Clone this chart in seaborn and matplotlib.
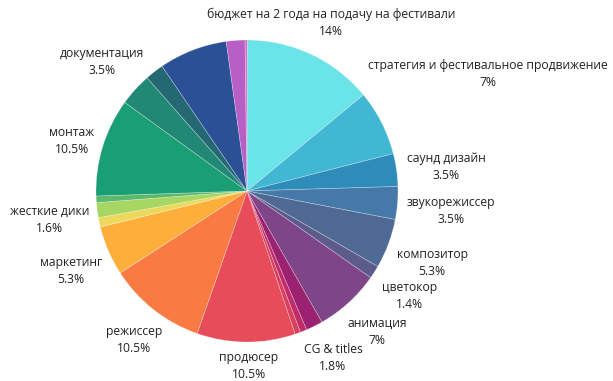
import matplotlib
matplotlib.use("Agg")
import matplotlib.pyplot as plt
import seaborn as sns

sns.set_theme(style="white")
plt.rcParams["font.family"] = ["Open Sans", "DejaVu Sans"]

# slices, clockwise from 12 o'clock ("" = slice without a label)
labels = [
    "бюджет на 2 года на подачу на фестивали",
    "стратегия и фестивальное продвижение",
    "саунд дизайн",
    "звукорежиссер",
    "композитор",
    "цветокор",
    "анимация",
    "CG & titles",
    "",
    "",
    "продюсер",
    "режиссер",
    "маркетинг",
    "",
    "жесткие дики",
    "",
    "монтаж",
    "документация",
    "",
    "",
    "",
    "",
]
values = [14, 7, 3.5, 3.5, 5.3, 1.4, 7, 1.8, 0.7, 0.6, 10.5, 10.5, 5.3,
          1.0, 1.6, 0.7, 10.5, 3.5, 2.0, 7.3, 2.0, 0.2]

colors = [
    "#6ae4e8", "#42b7d4", "#2e8cba", "#457aa8", "#4d6994", "#5d5a8c",
    "#7e4588", "#9a2271", "#c02c6a", "#d9415f", "#e84c5a", "#f97a42",
    "#fdae3b", "#ecd85a", "#a8d662", "#5cb86a", "#1a9e74", "#228876",
    "#236873", "#2a5096", "#b75fc4", "#f052b4",
]

# label centres in pixels (layout only)
label_px = {
    "бюджет на 2 года на подачу на фестивали": (331, 23),
    "стратегия и фестивальное продвижение": (488, 74),
    "саунд дизайн": (446, 167),
    "звукорежиссер": (451, 211),
    "композитор": (432, 263),
    "цветокор": (410, 296),
    "анимация": (377, 332),
    "CG & titles": (333, 358),
    "продюсер": (249, 366),
    "режиссер": (134, 340),
    "маркетинг": (71, 271),
    "жесткие дики": (50, 220),
    "монтаж": (72, 141),
    "документация": (102, 62),
}

W, H = 613, 381
cx, cy, r = 247, 191, 151

fig = plt.figure(figsize=(W / 100, H / 100), dpi=100)
ax = fig.add_axes([0, 0, 1, 1])

ax.pie(
    values,
    colors=colors,
    startangle=90,
    counterclock=False,
    wedgeprops=dict(edgecolor=(1, 1, 1, 0.35), linewidth=0.5),
)

for lab, val in zip(labels, values):
    if not lab:
        continue
    px, py = label_px[lab]
    ax.text((px - cx) / r, (cy - py) / r, f"{lab}\n{val:g}%",
            ha="center", va="center", fontsize=8.7, color="#222222",
            linespacing=1.45)

ax.set_aspect("auto")
ax.set_xlim(-cx / r, (W - cx) / r)
ax.set_ylim(-(H - cy) / r, cy / r)
ax.axis("off")

fig.savefig("out.png", dpi=100)
